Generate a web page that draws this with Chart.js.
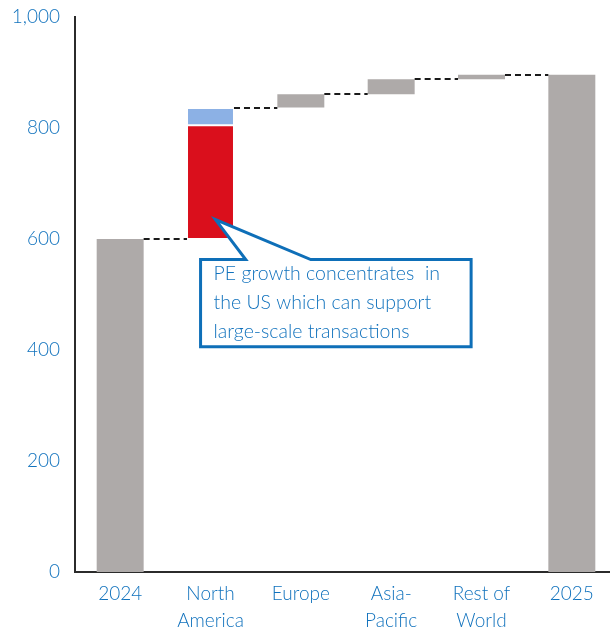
<!DOCTYPE html>
<html>
<head>
<meta charset="utf-8">
<script src="https://cdn.jsdelivr.net/npm/chart.js@4/dist/chart.umd.min.js"></script>
<style>
  html, body { margin: 0; padding: 0; background: #fff; overflow: hidden; width: 610px; height: 632px; }
  #wrap { width: 617px; height: 632px; position: relative; }
</style>
</head>
<body>
<div id="wrap"><canvas id="c"></canvas></div>
<script>
// ---- Data ----
const categories = ['2024', ['North', 'America'], 'Europe', ['Asia-', 'Pacific'], ['Rest of', 'World'], '2025'];
const grayLow  = [0,   null, 837, 861, 888, 0];
const grayHigh = [600, null, 861, 888, 896, 896];
const usLow    = [null, 600, null, null, null, null];
const usHigh   = [null, 805, null, null, null, null];
const naOtherLow  = [null, 805, null, null, null, null];
const naOtherHigh = [null, 836, null, null, null, null];
const connectors = [600, 836, 861, 888, 896];
const yTicks = [0, 200, 400, 600, 800, 1000];
const calloutLines = ['PE growth concentrates  in', 'the US which can support', 'large-scale transactions'];

const pair = (lo, hi) => lo.map((v, i) => (v === null ? null : [v, hi[i]]));

const BLUE_TXT = '#1172BD';
const FONT = "'Lato', 'Open Sans', sans-serif";

const connectorPlugin = {
  id: 'connectors',
  afterDatasetsDraw(chart) {
    const ctx = chart.ctx;
    const y = chart.scales.y;
    const x = chart.scales.x;
    const barHalf = chart.getDatasetMeta(0).data[0].width / 2;
    ctx.save();
    ctx.strokeStyle = '#1a1a1a';
    ctx.lineWidth = 2;
    ctx.setLineDash([6, 4]);
    connectors.forEach((v, i) => {
      const py = Math.round(y.getPixelForValue(v)) ;
      const x1 = x.getPixelForValue(i) + barHalf;
      const x2 = x.getPixelForValue(i + 1) - barHalf;
      ctx.beginPath();
      ctx.moveTo(x1, py);
      ctx.lineTo(x2, py);
      ctx.stroke();
    });
    ctx.restore();
  }
};

const calloutPlugin = {
  id: 'callout',
  afterDraw(chart) {
    const ctx = chart.ctx;
    const xs = chart.scales.x, ys = chart.scales.y;
    const step = xs.getPixelForValue(1) - xs.getPixelForValue(0);
    const px = c => xs.getPixelForValue(0) + c * step;
    const left = px(0.89), right = px(3.885);
    const top = ys.getPixelForValue(563), bottom = ys.getPixelForValue(406);
    const tipX = px(1.055), tipY = ys.getPixelForValue(635);
    const b1 = px(1.39), b2 = px(2.11);
    ctx.save();
    ctx.beginPath();
    ctx.moveTo(left, top);
    ctx.lineTo(b1, top);
    ctx.lineTo(tipX, tipY);
    ctx.lineTo(b2, top);
    ctx.lineTo(right, top);
    ctx.lineTo(right, bottom);
    ctx.lineTo(left, bottom);
    ctx.closePath();
    ctx.fillStyle = '#fff';
    ctx.fill();
    ctx.strokeStyle = '#0E6FB8';
    ctx.lineWidth = 3;
    ctx.lineJoin = 'miter';
    ctx.stroke();
    ctx.fillStyle = BLUE_TXT;
    ctx.font = "300 19.5px " + FONT;
    ctx.textBaseline = 'middle';
    calloutLines.forEach((t, i) => {
      ctx.fillText(t, left + 13, top + 14 + i * 29);
    });
    ctx.restore();
  }
};

new Chart(document.getElementById('c'), {
  type: 'bar',
  data: {
    labels: categories,
    datasets: [
      { data: pair(grayLow, grayHigh), backgroundColor: '#AEAAA9', borderWidth: 0 },
      { data: pair(usLow, usHigh), backgroundColor: '#DA0F1C', borderColor: '#fff', borderWidth: 1, borderSkipped: false },
      { data: pair(naOtherLow, naOtherHigh), backgroundColor: '#8CB1E5', borderColor: '#fff', borderWidth: 1, borderSkipped: false }
    ]
  },
  options: {
    responsive: true,
    maintainAspectRatio: false,
    animation: false,
    devicePixelRatio: 1,
    layout: { padding: { top: 17, right: 0, left: 0, bottom: 0 } },
    datasets: { bar: { grouped: false, barPercentage: 0.52, categoryPercentage: 1 } },
    plugins: { legend: { display: false }, tooltip: { enabled: false } },
    scales: {
      x: {
        grid: { display: false },
        border: { display: true, color: '#2b2b2b', width: 2 },
        ticks: { color: BLUE_TXT, font: { family: FONT, size: 19, weight: 300, lineHeight: 1.4 }, padding: 1, maxRotation: 0, autoSkip: false },
        afterFit(s) { s.height = 60; s.paddingLeft = 0; s.paddingRight = 0; }
      },
      y: {
        min: 0, max: 1000,
        afterBuildTicks(s) { s.ticks = yTicks.map(v => ({ value: v })); },
        grid: { display: false },
        border: { display: true, color: '#2b2b2b', width: 2 },
        ticks: { color: BLUE_TXT, font: { family: FONT, size: 19, weight: 300 }, padding: 7,
                 callback: v => v.toLocaleString('en-US') },
        afterFit(s) { s.width = 75; s.paddingTop = 0; s.paddingBottom = 0; }
      }
    }
  },
  plugins: [connectorPlugin, calloutPlugin]
});
</script>
</body>
</html>
